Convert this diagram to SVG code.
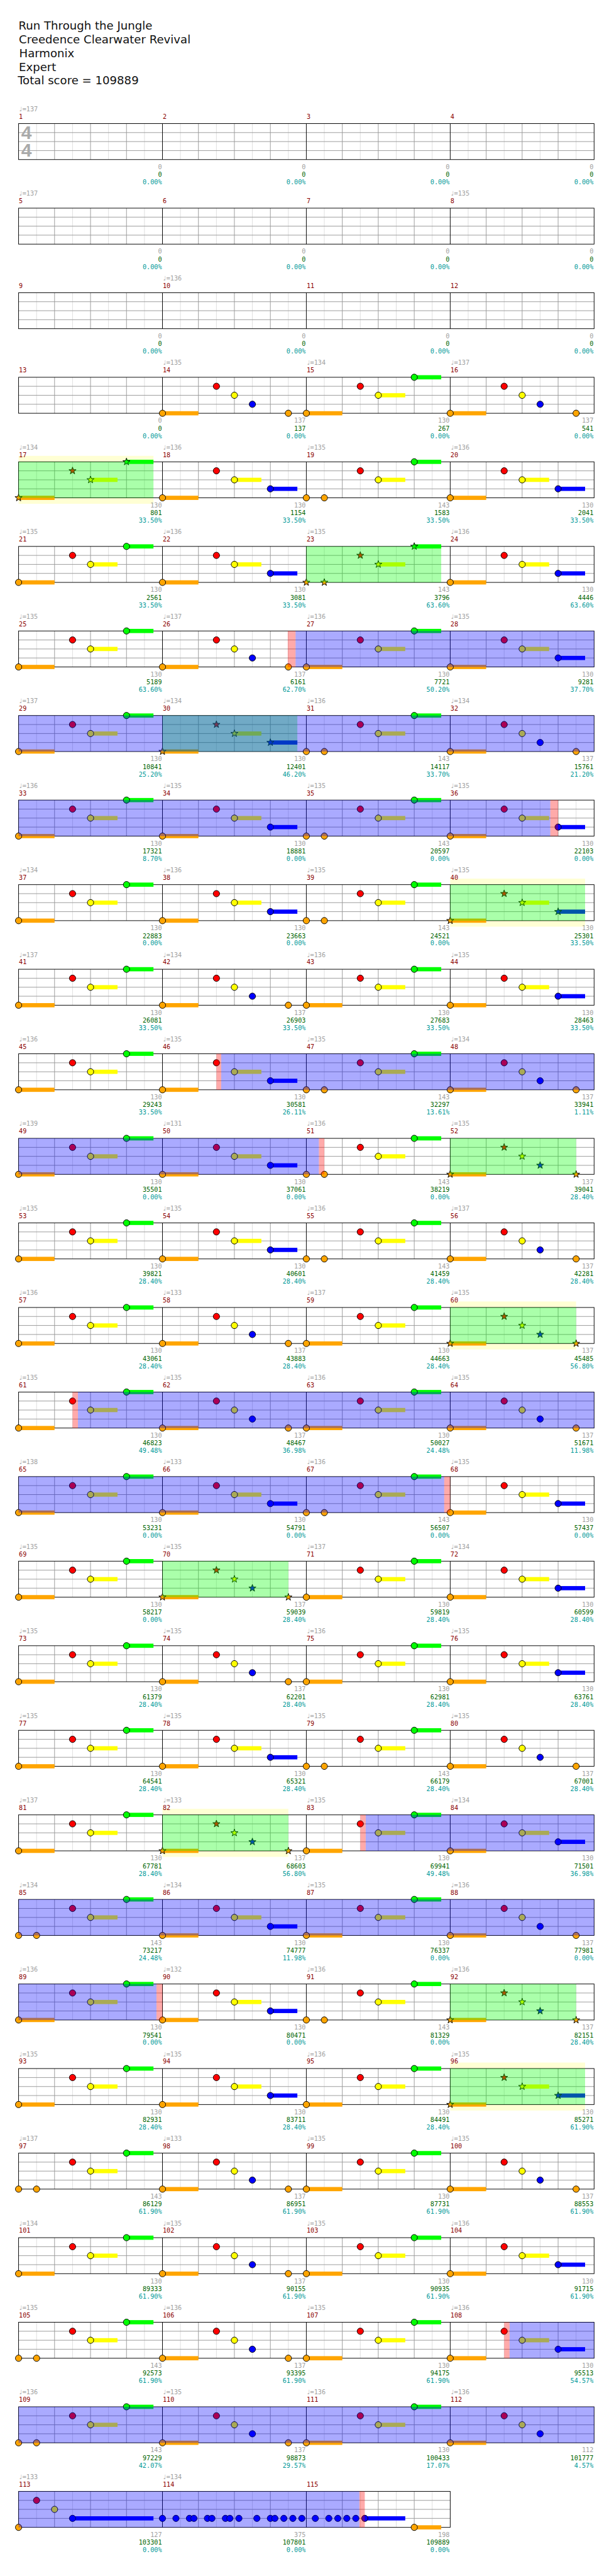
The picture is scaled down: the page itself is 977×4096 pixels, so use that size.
<svg xmlns="http://www.w3.org/2000/svg" width="977" height="4096" viewBox="0 0 977 4096">
<style>
.so{fill:#ffa500}.sy{fill:#ff0}.sg{fill:#0f0}.sb{fill:#00f}
.no,.nr,.ny,.ng,.nb{stroke:#000;stroke-width:1}
.no{fill:#ffa500}.nr{fill:#f00}.ny{fill:#ff0}.ng{fill:#0f0}.nb{fill:#00f}
.og{fill:#0f0;fill-opacity:.333}.ob{fill:#00f;fill-opacity:.333}.or{fill:#f00;fill-opacity:.333}.bd{fill:#ffffd4}
.tx{font-family:"DejaVu Sans Mono",monospace;font-size:10.7px}
.tp{fill:#a0a0a0}.mn{fill:#8b0000}.a{text-anchor:end;fill:#a0a0a0}.b{text-anchor:end;fill:#006400}.c{text-anchor:end;fill:#009999}
</style>
<defs>
<path id="st" d="M0,-6.3L1.47,-2.02L5.99,-1.95L2.38,0.77L3.7,5.1L0,2.5L-3.7,5.1L-2.38,0.77L-5.99,-1.95L-1.47,-2.02Z"/>
<g id="mg"><rect width="240" height="60" fill="#fff"/><path d="M30 0v60M90 0v60M150 0v60M210 0v60" stroke="#ddd"/><path d="M60 0v60M120 0v60M180 0v60M0 15h240M0 30h240M0 45h240" stroke="#999"/></g>
<g id="stf"><use href="#mg" x="31"/><use href="#mg" x="271"/><use href="#mg" x="511"/><use href="#mg" x="751"/><path d="M271 0v60M511 0v60M751 0v60" stroke="#000"/><rect x="31" width="960" height="60" fill="none" stroke="#000"/></g>
<g id="pA"><rect class="so" y="56.5" width="60" height="7"/><rect class="sy" x="120" y="26.5" width="45" height="7"/><rect class="sg" x="180" y="-3.5" width="45" height="7"/><circle class="no" cy="60" r="5.3"/><circle class="nr" cx="90" cy="15" r="5.3"/><circle class="ny" cx="120" cy="30" r="5.3"/><circle class="ng" cx="180" r="5.3"/></g>
<g id="pB"><rect class="so" y="56.5" width="60" height="7"/><circle class="no" cy="60" r="5.3"/><circle class="nr" cx="90" cy="15" r="5.3"/><circle class="ny" cx="120" cy="30" r="5.3"/><circle class="nb" cx="150" cy="45" r="5.3"/><circle class="no" cx="210" cy="60" r="5.3"/></g>
<g id="pB2"><rect class="so" y="56.5" width="60" height="7"/><circle class="no" cy="60" r="5.3"/><circle class="nr" cx="90" cy="15" r="5.3"/><circle class="ny" cx="120" cy="30" r="5.3"/><circle class="nb" cx="150" cy="45" r="5.3"/></g>
<g id="pC"><rect class="so" y="56.5" width="60" height="7"/><rect class="sy" x="120" y="26.5" width="45" height="7"/><rect class="sb" x="180" y="41.5" width="45" height="7"/><circle class="no" cy="60" r="5.3"/><circle class="nr" cx="90" cy="15" r="5.3"/><circle class="ny" cx="120" cy="30" r="5.3"/><circle class="nb" cx="180" cy="45" r="5.3"/></g>
<g id="pE"><rect class="sy" x="120" y="26.5" width="45" height="7"/><rect class="sg" x="180" y="-3.5" width="45" height="7"/><circle class="no" cy="60" r="5.3"/><circle class="no" cx="30" cy="60" r="5.3"/><circle class="nr" cx="90" cy="15" r="5.3"/><circle class="ny" cx="120" cy="30" r="5.3"/><circle class="ng" cx="180" r="5.3"/></g>
<g id="sA"><rect class="so" y="56.5" width="60" height="7"/><rect class="sy" x="120" y="26.5" width="45" height="7"/><rect class="sg" x="180" y="-3.5" width="45" height="7"/><use href="#st" class="no" y="60"/><use href="#st" class="nr" x="90" y="15"/><use href="#st" class="ny" x="120" y="30"/><use href="#st" class="ng" x="180"/></g>
<g id="sE"><rect class="sy" x="120" y="26.5" width="45" height="7"/><rect class="sg" x="180" y="-3.5" width="45" height="7"/><use href="#st" class="no" y="60"/><use href="#st" class="no" x="30" y="60"/><use href="#st" class="nr" x="90" y="15"/><use href="#st" class="ny" x="120" y="30"/><use href="#st" class="ng" x="180"/></g>
<g id="sB"><rect class="so" y="56.5" width="60" height="7"/><use href="#st" class="no" y="60"/><use href="#st" class="nr" x="90" y="15"/><use href="#st" class="ny" x="120" y="30"/><use href="#st" class="nb" x="150" y="45"/><use href="#st" class="no" x="210" y="60"/></g>
<g id="sC"><rect class="so" y="56.5" width="60" height="7"/><rect class="sy" x="120" y="26.5" width="45" height="7"/><rect class="sb" x="180" y="41.5" width="45" height="7"/><use href="#st" class="no" y="60"/><use href="#st" class="nr" x="90" y="15"/><use href="#st" class="ny" x="120" y="30"/><use href="#st" class="nb" x="180" y="45"/></g>
</defs>
<g transform="scale(0.9539)">
<rect width="1024" height="4294" fill="#fff"/>
<g id="title" font-family="'DejaVu Sans',sans-serif" font-size="19" fill="#111">
<text x="31" y="49">Run Through the Jungle</text>
<text x="31.5" y="72">Creedence Clearwater Revival</text>
<text x="32" y="95">Harmonix</text>
<text x="31.5" y="118">Expert</text>
<text x="29.5" y="141">Total score = 109889</text>
</g>

<g id="r1" transform="translate(0,206)"><use href="#stf"/>
<g font-family="'Liberation Sans',sans-serif" font-weight="bold" font-size="31.5" fill="#aaa"><text x="35.5" y="26">4</text><text x="35.5" y="55.5">4</text></g>
<g class="tx"><text class="tp" x="31" y="-20.5">♩=137</text>
<text class="mn" x="31.5" y="-8">1</text><text class="mn" x="271.5" y="-8">2</text><text class="mn" x="511.5" y="-8">3</text><text class="mn" x="751.5" y="-8">4</text>
<text class="a" x="270" y="76">0</text><text class="b" x="270" y="89">0</text><text class="c" x="270" y="101.5">0.00%</text>
<text class="a" x="510" y="76">0</text><text class="b" x="510" y="89">0</text><text class="c" x="510" y="101.5">0.00%</text>
<text class="a" x="750" y="76">0</text><text class="b" x="750" y="89">0</text><text class="c" x="750" y="101.5">0.00%</text>
<text class="a" x="990" y="76">0</text><text class="b" x="990" y="89">0</text><text class="c" x="990" y="101.5">0.00%</text></g></g>

<g id="r2" transform="translate(0,346.96)"><use href="#stf"/>
<g class="tx"><text class="tp" x="31" y="-20.5">♩=137</text><text class="tp" x="751" y="-20.5">♩=135</text>
<text class="mn" x="31.5" y="-8">5</text><text class="mn" x="271.5" y="-8">6</text><text class="mn" x="511.5" y="-8">7</text><text class="mn" x="751.5" y="-8">8</text>
<text class="a" x="270" y="76">0</text><text class="b" x="270" y="89">0</text><text class="c" x="270" y="101.5">0.00%</text>
<text class="a" x="510" y="76">0</text><text class="b" x="510" y="89">0</text><text class="c" x="510" y="101.5">0.00%</text>
<text class="a" x="750" y="76">0</text><text class="b" x="750" y="89">0</text><text class="c" x="750" y="101.5">0.00%</text>
<text class="a" x="990" y="76">0</text><text class="b" x="990" y="89">0</text><text class="c" x="990" y="101.5">0.00%</text></g></g>

<g id="r3" transform="translate(0,487.92)"><use href="#stf"/>
<g class="tx"><text class="tp" x="271" y="-20.5">♩=136</text>
<text class="mn" x="31.5" y="-8">9</text><text class="mn" x="271.5" y="-8">10</text><text class="mn" x="511.5" y="-8">11</text><text class="mn" x="751.5" y="-8">12</text>
<text class="a" x="270" y="76">0</text><text class="b" x="270" y="89">0</text><text class="c" x="270" y="101.5">0.00%</text>
<text class="a" x="510" y="76">0</text><text class="b" x="510" y="89">0</text><text class="c" x="510" y="101.5">0.00%</text>
<text class="a" x="750" y="76">0</text><text class="b" x="750" y="89">0</text><text class="c" x="750" y="101.5">0.00%</text>
<text class="a" x="990" y="76">0</text><text class="b" x="990" y="89">0</text><text class="c" x="990" y="101.5">0.00%</text></g></g>

<g id="r4" transform="translate(0,628.88)"><use href="#stf"/><use href="#pB" x="271"/><use href="#pA" x="511"/><use href="#pB" x="751"/>
<g class="tx"><text class="tp" x="271" y="-20.5">♩=135</text><text class="tp" x="511" y="-20.5">♩=134</text><text class="tp" x="751" y="-20.5">♩=137</text>
<text class="mn" x="31.5" y="-8">13</text><text class="mn" x="271.5" y="-8">14</text><text class="mn" x="511.5" y="-8">15</text><text class="mn" x="751.5" y="-8">16</text>
<text class="a" x="270" y="76">0</text><text class="b" x="270" y="89">0</text><text class="c" x="270" y="101.5">0.00%</text>
<text class="a" x="510" y="76">137</text><text class="b" x="510" y="89">137</text><text class="c" x="510" y="101.5">0.00%</text>
<text class="a" x="750" y="76">130</text><text class="b" x="750" y="89">267</text><text class="c" x="750" y="101.5">0.00%</text>
<text class="a" x="990" y="76">137</text><text class="b" x="990" y="89">541</text><text class="c" x="990" y="101.5">0.00%</text></g></g>

<g id="r5" transform="translate(0,769.84)"><rect class="bd" x="31" y="-10" width="225" height="80"/><use href="#stf"/><use href="#sA" x="31"/><use href="#pC" x="271"/><use href="#pE" x="511"/><use href="#pC" x="751"/><rect class="og" x="31" width="225" height="60"/>
<g class="tx"><text class="tp" x="31" y="-20.5">♩=134</text><text class="tp" x="271" y="-20.5">♩=136</text><text class="tp" x="511" y="-20.5">♩=135</text><text class="tp" x="751" y="-20.5">♩=136</text>
<text class="mn" x="31.5" y="-8">17</text><text class="mn" x="271.5" y="-8">18</text><text class="mn" x="511.5" y="-8">19</text><text class="mn" x="751.5" y="-8">20</text>
<text class="a" x="270" y="76">130</text><text class="b" x="270" y="89">801</text><text class="c" x="270" y="101.5">33.50%</text>
<text class="a" x="510" y="76">130</text><text class="b" x="510" y="89">1154</text><text class="c" x="510" y="101.5">33.50%</text>
<text class="a" x="750" y="76">143</text><text class="b" x="750" y="89">1583</text><text class="c" x="750" y="101.5">33.50%</text>
<text class="a" x="990" y="76">130</text><text class="b" x="990" y="89">2041</text><text class="c" x="990" y="101.5">33.50%</text></g></g>

<g id="r6" transform="translate(0,910.8)"><use href="#stf"/><use href="#pA" x="31"/><use href="#pC" x="271"/><use href="#sE" x="511"/><use href="#pC" x="751"/><rect class="og" x="511" width="225" height="60"/>
<g class="tx"><text class="tp" x="31" y="-20.5">♩=135</text><text class="tp" x="271" y="-20.5">♩=136</text><text class="tp" x="511" y="-20.5">♩=135</text><text class="tp" x="751" y="-20.5">♩=136</text>
<text class="mn" x="31.5" y="-8">21</text><text class="mn" x="271.5" y="-8">22</text><text class="mn" x="511.5" y="-8">23</text><text class="mn" x="751.5" y="-8">24</text>
<text class="a" x="270" y="76">130</text><text class="b" x="270" y="89">2561</text><text class="c" x="270" y="101.5">33.50%</text>
<text class="a" x="510" y="76">130</text><text class="b" x="510" y="89">3081</text><text class="c" x="510" y="101.5">33.50%</text>
<text class="a" x="750" y="76">143</text><text class="b" x="750" y="89">3796</text><text class="c" x="750" y="101.5">63.60%</text>
<text class="a" x="990" y="76">130</text><text class="b" x="990" y="89">4446</text><text class="c" x="990" y="101.5">63.60%</text></g></g>

<g id="r7" transform="translate(0,1051.76)"><use href="#stf"/><use href="#pA" x="31"/><use href="#pB" x="271"/><use href="#pA" x="511"/><use href="#pC" x="751"/><rect class="ob" x="493" width="498" height="60"/><rect class="or" x="480" width="13" height="60"/>
<g class="tx"><text class="tp" x="31" y="-20.5">♩=135</text><text class="tp" x="271" y="-20.5">♩=137</text><text class="tp" x="511" y="-20.5">♩=136</text><text class="tp" x="751" y="-20.5">♩=135</text>
<text class="mn" x="31.5" y="-8">25</text><text class="mn" x="271.5" y="-8">26</text><text class="mn" x="511.5" y="-8">27</text><text class="mn" x="751.5" y="-8">28</text>
<text class="a" x="270" y="76">130</text><text class="b" x="270" y="89">5189</text><text class="c" x="270" y="101.5">63.60%</text>
<text class="a" x="510" y="76">137</text><text class="b" x="510" y="89">6161</text><text class="c" x="510" y="101.5">62.70%</text>
<text class="a" x="750" y="76">130</text><text class="b" x="750" y="89">7721</text><text class="c" x="750" y="101.5">50.20%</text>
<text class="a" x="990" y="76">130</text><text class="b" x="990" y="89">9281</text><text class="c" x="990" y="101.5">37.70%</text></g></g>

<g id="r8" transform="translate(0,1192.72)"><use href="#stf"/><use href="#pA" x="31"/><use href="#sC" x="271"/><use href="#pE" x="511"/><use href="#pB" x="751"/><rect class="og" x="271" width="225" height="60"/><rect class="ob" x="31" width="960" height="60"/>
<g class="tx"><text class="tp" x="31" y="-20.5">♩=137</text><text class="tp" x="271" y="-20.5">♩=134</text><text class="tp" x="511" y="-20.5">♩=136</text><text class="tp" x="751" y="-20.5">♩=134</text>
<text class="mn" x="31.5" y="-8">29</text><text class="mn" x="271.5" y="-8">30</text><text class="mn" x="511.5" y="-8">31</text><text class="mn" x="751.5" y="-8">32</text>
<text class="a" x="270" y="76">130</text><text class="b" x="270" y="89">10841</text><text class="c" x="270" y="101.5">25.20%</text>
<text class="a" x="510" y="76">130</text><text class="b" x="510" y="89">12401</text><text class="c" x="510" y="101.5">46.20%</text>
<text class="a" x="750" y="76">143</text><text class="b" x="750" y="89">14117</text><text class="c" x="750" y="101.5">33.70%</text>
<text class="a" x="990" y="76">137</text><text class="b" x="990" y="89">15761</text><text class="c" x="990" y="101.5">21.20%</text></g></g>

<g id="r9" transform="translate(0,1333.68)"><use href="#stf"/><use href="#pA" x="31"/><use href="#pC" x="271"/><use href="#pE" x="511"/><use href="#pC" x="751"/><rect class="ob" x="31" width="887" height="60"/><rect class="or" x="918" width="13" height="60"/>
<g class="tx"><text class="tp" x="31" y="-20.5">♩=136</text><text class="tp" x="271" y="-20.5">♩=135</text><text class="tp" x="511" y="-20.5">♩=135</text><text class="tp" x="751" y="-20.5">♩=135</text>
<text class="mn" x="31.5" y="-8">33</text><text class="mn" x="271.5" y="-8">34</text><text class="mn" x="511.5" y="-8">35</text><text class="mn" x="751.5" y="-8">36</text>
<text class="a" x="270" y="76">130</text><text class="b" x="270" y="89">17321</text><text class="c" x="270" y="101.5">8.70%</text>
<text class="a" x="510" y="76">130</text><text class="b" x="510" y="89">18881</text><text class="c" x="510" y="101.5">0.00%</text>
<text class="a" x="750" y="76">143</text><text class="b" x="750" y="89">20597</text><text class="c" x="750" y="101.5">0.00%</text>
<text class="a" x="990" y="76">130</text><text class="b" x="990" y="89">22103</text><text class="c" x="990" y="101.5">0.00%</text></g></g>

<g id="r10" transform="translate(0,1474.64)"><rect class="bd" x="751" y="-10" width="225" height="80"/><use href="#stf"/><use href="#pA" x="31"/><use href="#pC" x="271"/><use href="#pE" x="511"/><use href="#sC" x="751"/><rect class="og" x="751" width="225" height="60"/>
<g class="tx"><text class="tp" x="31" y="-20.5">♩=134</text><text class="tp" x="271" y="-20.5">♩=136</text><text class="tp" x="511" y="-20.5">♩=135</text><text class="tp" x="751" y="-20.5">♩=135</text>
<text class="mn" x="31.5" y="-8">37</text><text class="mn" x="271.5" y="-8">38</text><text class="mn" x="511.5" y="-8">39</text><text class="mn" x="751.5" y="-8">40</text>
<text class="a" x="270" y="76">130</text><text class="b" x="270" y="89">22883</text><text class="c" x="270" y="101.5">0.00%</text>
<text class="a" x="510" y="76">130</text><text class="b" x="510" y="89">23663</text><text class="c" x="510" y="101.5">0.00%</text>
<text class="a" x="750" y="76">143</text><text class="b" x="750" y="89">24521</text><text class="c" x="750" y="101.5">0.00%</text>
<text class="a" x="990" y="76">130</text><text class="b" x="990" y="89">25301</text><text class="c" x="990" y="101.5">33.50%</text></g></g>

<g id="r11" transform="translate(0,1615.6)"><use href="#stf"/><use href="#pA" x="31"/><use href="#pB" x="271"/><use href="#pA" x="511"/><use href="#pC" x="751"/>
<g class="tx"><text class="tp" x="31" y="-20.5">♩=137</text><text class="tp" x="271" y="-20.5">♩=134</text><text class="tp" x="511" y="-20.5">♩=136</text><text class="tp" x="751" y="-20.5">♩=135</text>
<text class="mn" x="31.5" y="-8">41</text><text class="mn" x="271.5" y="-8">42</text><text class="mn" x="511.5" y="-8">43</text><text class="mn" x="751.5" y="-8">44</text>
<text class="a" x="270" y="76">130</text><text class="b" x="270" y="89">26081</text><text class="c" x="270" y="101.5">33.50%</text>
<text class="a" x="510" y="76">137</text><text class="b" x="510" y="89">26903</text><text class="c" x="510" y="101.5">33.50%</text>
<text class="a" x="750" y="76">130</text><text class="b" x="750" y="89">27683</text><text class="c" x="750" y="101.5">33.50%</text>
<text class="a" x="990" y="76">130</text><text class="b" x="990" y="89">28463</text><text class="c" x="990" y="101.5">33.50%</text></g></g>

<g id="r12" transform="translate(0,1756.56)"><use href="#stf"/><use href="#pA" x="31"/><use href="#pC" x="271"/><use href="#pE" x="511"/><use href="#pB" x="751"/><rect class="ob" x="369" width="622" height="60"/><rect class="or" x="361" width="8" height="60"/>
<g class="tx"><text class="tp" x="31" y="-20.5">♩=136</text><text class="tp" x="271" y="-20.5">♩=135</text><text class="tp" x="511" y="-20.5">♩=135</text><text class="tp" x="751" y="-20.5">♩=134</text>
<text class="mn" x="31.5" y="-8">45</text><text class="mn" x="271.5" y="-8">46</text><text class="mn" x="511.5" y="-8">47</text><text class="mn" x="751.5" y="-8">48</text>
<text class="a" x="270" y="76">130</text><text class="b" x="270" y="89">29243</text><text class="c" x="270" y="101.5">33.50%</text>
<text class="a" x="510" y="76">130</text><text class="b" x="510" y="89">30581</text><text class="c" x="510" y="101.5">26.11%</text>
<text class="a" x="750" y="76">143</text><text class="b" x="750" y="89">32297</text><text class="c" x="750" y="101.5">13.61%</text>
<text class="a" x="990" y="76">137</text><text class="b" x="990" y="89">33941</text><text class="c" x="990" y="101.5">1.11%</text></g></g>

<g id="r13" transform="translate(0,1897.52)"><use href="#stf"/><use href="#pA" x="31"/><use href="#pC" x="271"/><use href="#pE" x="511"/><use href="#sB" x="751"/><rect class="og" x="751" width="210" height="60"/><rect class="ob" x="31" width="501" height="60"/><rect class="or" x="532" width="9" height="60"/>
<g class="tx"><text class="tp" x="31" y="-20.5">♩=139</text><text class="tp" x="271" y="-20.5">♩=131</text><text class="tp" x="511" y="-20.5">♩=136</text><text class="tp" x="751" y="-20.5">♩=135</text>
<text class="mn" x="31.5" y="-8">49</text><text class="mn" x="271.5" y="-8">50</text><text class="mn" x="511.5" y="-8">51</text><text class="mn" x="751.5" y="-8">52</text>
<text class="a" x="270" y="76">130</text><text class="b" x="270" y="89">35501</text><text class="c" x="270" y="101.5">0.00%</text>
<text class="a" x="510" y="76">130</text><text class="b" x="510" y="89">37061</text><text class="c" x="510" y="101.5">0.00%</text>
<text class="a" x="750" y="76">143</text><text class="b" x="750" y="89">38219</text><text class="c" x="750" y="101.5">0.00%</text>
<text class="a" x="990" y="76">137</text><text class="b" x="990" y="89">39041</text><text class="c" x="990" y="101.5">28.40%</text></g></g>

<g id="r14" transform="translate(0,2038.48)"><use href="#stf"/><use href="#pA" x="31"/><use href="#pC" x="271"/><use href="#pE" x="511"/><use href="#pB" x="751"/>
<g class="tx"><text class="tp" x="31" y="-20.5">♩=135</text><text class="tp" x="271" y="-20.5">♩=135</text><text class="tp" x="511" y="-20.5">♩=136</text><text class="tp" x="751" y="-20.5">♩=137</text>
<text class="mn" x="31.5" y="-8">53</text><text class="mn" x="271.5" y="-8">54</text><text class="mn" x="511.5" y="-8">55</text><text class="mn" x="751.5" y="-8">56</text>
<text class="a" x="270" y="76">130</text><text class="b" x="270" y="89">39821</text><text class="c" x="270" y="101.5">28.40%</text>
<text class="a" x="510" y="76">130</text><text class="b" x="510" y="89">40601</text><text class="c" x="510" y="101.5">28.40%</text>
<text class="a" x="750" y="76">143</text><text class="b" x="750" y="89">41459</text><text class="c" x="750" y="101.5">28.40%</text>
<text class="a" x="990" y="76">137</text><text class="b" x="990" y="89">42281</text><text class="c" x="990" y="101.5">28.40%</text></g></g>

<g id="r15" transform="translate(0,2179.44)"><rect class="bd" x="751" y="-10" width="210" height="80"/><use href="#stf"/><use href="#pA" x="31"/><use href="#pB" x="271"/><use href="#pA" x="511"/><use href="#sB" x="751"/><rect class="og" x="751" width="210" height="60"/>
<g class="tx"><text class="tp" x="31" y="-20.5">♩=136</text><text class="tp" x="271" y="-20.5">♩=133</text><text class="tp" x="511" y="-20.5">♩=137</text><text class="tp" x="751" y="-20.5">♩=135</text>
<text class="mn" x="31.5" y="-8">57</text><text class="mn" x="271.5" y="-8">58</text><text class="mn" x="511.5" y="-8">59</text><text class="mn" x="751.5" y="-8">60</text>
<text class="a" x="270" y="76">130</text><text class="b" x="270" y="89">43061</text><text class="c" x="270" y="101.5">28.40%</text>
<text class="a" x="510" y="76">137</text><text class="b" x="510" y="89">43883</text><text class="c" x="510" y="101.5">28.40%</text>
<text class="a" x="750" y="76">130</text><text class="b" x="750" y="89">44663</text><text class="c" x="750" y="101.5">28.40%</text>
<text class="a" x="990" y="76">137</text><text class="b" x="990" y="89">45485</text><text class="c" x="990" y="101.5">56.80%</text></g></g>

<g id="r16" transform="translate(0,2320.4)"><use href="#stf"/><use href="#pA" x="31"/><use href="#pB" x="271"/><use href="#pA" x="511"/><use href="#pB" x="751"/><rect class="ob" x="130" width="861" height="60"/><rect class="or" x="121" width="9" height="60"/>
<g class="tx"><text class="tp" x="31" y="-20.5">♩=135</text><text class="tp" x="271" y="-20.5">♩=135</text><text class="tp" x="511" y="-20.5">♩=136</text><text class="tp" x="751" y="-20.5">♩=135</text>
<text class="mn" x="31.5" y="-8">61</text><text class="mn" x="271.5" y="-8">62</text><text class="mn" x="511.5" y="-8">63</text><text class="mn" x="751.5" y="-8">64</text>
<text class="a" x="270" y="76">130</text><text class="b" x="270" y="89">46823</text><text class="c" x="270" y="101.5">49.48%</text>
<text class="a" x="510" y="76">137</text><text class="b" x="510" y="89">48467</text><text class="c" x="510" y="101.5">36.98%</text>
<text class="a" x="750" y="76">130</text><text class="b" x="750" y="89">50027</text><text class="c" x="750" y="101.5">24.48%</text>
<text class="a" x="990" y="76">137</text><text class="b" x="990" y="89">51671</text><text class="c" x="990" y="101.5">11.98%</text></g></g>

<g id="r17" transform="translate(0,2461.36)"><use href="#stf"/><use href="#pA" x="31"/><use href="#pC" x="271"/><use href="#pE" x="511"/><use href="#pC" x="751"/><rect class="ob" x="31" width="710" height="60"/><rect class="or" x="741" width="10" height="60"/>
<g class="tx"><text class="tp" x="31" y="-20.5">♩=138</text><text class="tp" x="271" y="-20.5">♩=133</text><text class="tp" x="511" y="-20.5">♩=136</text><text class="tp" x="751" y="-20.5">♩=135</text>
<text class="mn" x="31.5" y="-8">65</text><text class="mn" x="271.5" y="-8">66</text><text class="mn" x="511.5" y="-8">67</text><text class="mn" x="751.5" y="-8">68</text>
<text class="a" x="270" y="76">130</text><text class="b" x="270" y="89">53231</text><text class="c" x="270" y="101.5">0.00%</text>
<text class="a" x="510" y="76">130</text><text class="b" x="510" y="89">54791</text><text class="c" x="510" y="101.5">0.00%</text>
<text class="a" x="750" y="76">143</text><text class="b" x="750" y="89">56507</text><text class="c" x="750" y="101.5">0.00%</text>
<text class="a" x="990" y="76">130</text><text class="b" x="990" y="89">57437</text><text class="c" x="990" y="101.5">0.00%</text></g></g>

<g id="r18" transform="translate(0,2602.32)"><use href="#stf"/><use href="#pA" x="31"/><use href="#sB" x="271"/><use href="#pA" x="511"/><use href="#pC" x="751"/><rect class="og" x="271" width="210" height="60"/>
<g class="tx"><text class="tp" x="31" y="-20.5">♩=135</text><text class="tp" x="271" y="-20.5">♩=135</text><text class="tp" x="511" y="-20.5">♩=137</text><text class="tp" x="751" y="-20.5">♩=134</text>
<text class="mn" x="31.5" y="-8">69</text><text class="mn" x="271.5" y="-8">70</text><text class="mn" x="511.5" y="-8">71</text><text class="mn" x="751.5" y="-8">72</text>
<text class="a" x="270" y="76">130</text><text class="b" x="270" y="89">58217</text><text class="c" x="270" y="101.5">0.00%</text>
<text class="a" x="510" y="76">137</text><text class="b" x="510" y="89">59039</text><text class="c" x="510" y="101.5">28.40%</text>
<text class="a" x="750" y="76">130</text><text class="b" x="750" y="89">59819</text><text class="c" x="750" y="101.5">28.40%</text>
<text class="a" x="990" y="76">130</text><text class="b" x="990" y="89">60599</text><text class="c" x="990" y="101.5">28.40%</text></g></g>

<g id="r19" transform="translate(0,2743.28)"><use href="#stf"/><use href="#pA" x="31"/><use href="#pB" x="271"/><use href="#pA" x="511"/><use href="#pC" x="751"/>
<g class="tx"><text class="tp" x="31" y="-20.5">♩=135</text><text class="tp" x="271" y="-20.5">♩=135</text><text class="tp" x="511" y="-20.5">♩=136</text><text class="tp" x="751" y="-20.5">♩=135</text>
<text class="mn" x="31.5" y="-8">73</text><text class="mn" x="271.5" y="-8">74</text><text class="mn" x="511.5" y="-8">75</text><text class="mn" x="751.5" y="-8">76</text>
<text class="a" x="270" y="76">130</text><text class="b" x="270" y="89">61379</text><text class="c" x="270" y="101.5">28.40%</text>
<text class="a" x="510" y="76">137</text><text class="b" x="510" y="89">62201</text><text class="c" x="510" y="101.5">28.40%</text>
<text class="a" x="750" y="76">130</text><text class="b" x="750" y="89">62981</text><text class="c" x="750" y="101.5">28.40%</text>
<text class="a" x="990" y="76">130</text><text class="b" x="990" y="89">63761</text><text class="c" x="990" y="101.5">28.40%</text></g></g>

<g id="r20" transform="translate(0,2884.24)"><use href="#stf"/><use href="#pA" x="31"/><use href="#pC" x="271"/><use href="#pE" x="511"/><use href="#pB" x="751"/>
<g class="tx"><text class="tp" x="31" y="-20.5">♩=135</text><text class="tp" x="271" y="-20.5">♩=135</text><text class="tp" x="511" y="-20.5">♩=135</text><text class="tp" x="751" y="-20.5">♩=135</text>
<text class="mn" x="31.5" y="-8">77</text><text class="mn" x="271.5" y="-8">78</text><text class="mn" x="511.5" y="-8">79</text><text class="mn" x="751.5" y="-8">80</text>
<text class="a" x="270" y="76">130</text><text class="b" x="270" y="89">64541</text><text class="c" x="270" y="101.5">28.40%</text>
<text class="a" x="510" y="76">130</text><text class="b" x="510" y="89">65321</text><text class="c" x="510" y="101.5">28.40%</text>
<text class="a" x="750" y="76">143</text><text class="b" x="750" y="89">66179</text><text class="c" x="750" y="101.5">28.40%</text>
<text class="a" x="990" y="76">137</text><text class="b" x="990" y="89">67001</text><text class="c" x="990" y="101.5">28.40%</text></g></g>

<g id="r21" transform="translate(0,3025.2)"><rect class="bd" x="271" y="-10" width="210" height="80"/><use href="#stf"/><use href="#pA" x="31"/><use href="#sB" x="271"/><use href="#pA" x="511"/><use href="#pC" x="751"/><rect class="og" x="271" width="210" height="60"/><rect class="ob" x="610" width="381" height="60"/><rect class="or" x="601" width="9" height="60"/>
<g class="tx"><text class="tp" x="31" y="-20.5">♩=137</text><text class="tp" x="271" y="-20.5">♩=133</text><text class="tp" x="511" y="-20.5">♩=135</text><text class="tp" x="751" y="-20.5">♩=134</text>
<text class="mn" x="31.5" y="-8">81</text><text class="mn" x="271.5" y="-8">82</text><text class="mn" x="511.5" y="-8">83</text><text class="mn" x="751.5" y="-8">84</text>
<text class="a" x="270" y="76">130</text><text class="b" x="270" y="89">67781</text><text class="c" x="270" y="101.5">28.40%</text>
<text class="a" x="510" y="76">137</text><text class="b" x="510" y="89">68603</text><text class="c" x="510" y="101.5">56.80%</text>
<text class="a" x="750" y="76">130</text><text class="b" x="750" y="89">69941</text><text class="c" x="750" y="101.5">49.48%</text>
<text class="a" x="990" y="76">130</text><text class="b" x="990" y="89">71501</text><text class="c" x="990" y="101.5">36.98%</text></g></g>

<g id="r22" transform="translate(0,3166.16)"><use href="#stf"/><use href="#pE" x="31"/><use href="#pC" x="271"/><use href="#pA" x="511"/><use href="#pB" x="751"/><rect class="ob" x="31" width="960" height="60"/>
<g class="tx"><text class="tp" x="31" y="-20.5">♩=134</text><text class="tp" x="271" y="-20.5">♩=134</text><text class="tp" x="511" y="-20.5">♩=135</text><text class="tp" x="751" y="-20.5">♩=136</text>
<text class="mn" x="31.5" y="-8">85</text><text class="mn" x="271.5" y="-8">86</text><text class="mn" x="511.5" y="-8">87</text><text class="mn" x="751.5" y="-8">88</text>
<text class="a" x="270" y="76">143</text><text class="b" x="270" y="89">73217</text><text class="c" x="270" y="101.5">24.48%</text>
<text class="a" x="510" y="76">130</text><text class="b" x="510" y="89">74777</text><text class="c" x="510" y="101.5">11.98%</text>
<text class="a" x="750" y="76">130</text><text class="b" x="750" y="89">76337</text><text class="c" x="750" y="101.5">0.00%</text>
<text class="a" x="990" y="76">137</text><text class="b" x="990" y="89">77981</text><text class="c" x="990" y="101.5">0.00%</text></g></g>

<g id="r23" transform="translate(0,3307.12)"><use href="#stf"/><use href="#pA" x="31"/><use href="#pC" x="271"/><use href="#pE" x="511"/><use href="#sB" x="751"/><rect class="og" x="751" width="210" height="60"/><rect class="ob" x="31" width="230" height="60"/><rect class="or" x="261" width="10" height="60"/>
<g class="tx"><text class="tp" x="31" y="-20.5">♩=136</text><text class="tp" x="271" y="-20.5">♩=132</text><text class="tp" x="511" y="-20.5">♩=136</text><text class="tp" x="751" y="-20.5">♩=136</text>
<text class="mn" x="31.5" y="-8">89</text><text class="mn" x="271.5" y="-8">90</text><text class="mn" x="511.5" y="-8">91</text><text class="mn" x="751.5" y="-8">92</text>
<text class="a" x="270" y="76">130</text><text class="b" x="270" y="89">79541</text><text class="c" x="270" y="101.5">0.00%</text>
<text class="a" x="510" y="76">130</text><text class="b" x="510" y="89">80471</text><text class="c" x="510" y="101.5">0.00%</text>
<text class="a" x="750" y="76">143</text><text class="b" x="750" y="89">81329</text><text class="c" x="750" y="101.5">0.00%</text>
<text class="a" x="990" y="76">137</text><text class="b" x="990" y="89">82151</text><text class="c" x="990" y="101.5">28.40%</text></g></g>

<g id="r24" transform="translate(0,3448.08)"><rect class="bd" x="751" y="-10" width="225" height="80"/><use href="#stf"/><use href="#pA" x="31"/><use href="#pC" x="271"/><use href="#pA" x="511"/><use href="#sC" x="751"/><rect class="og" x="751" width="225" height="60"/>
<g class="tx"><text class="tp" x="31" y="-20.5">♩=135</text><text class="tp" x="271" y="-20.5">♩=135</text><text class="tp" x="511" y="-20.5">♩=136</text><text class="tp" x="751" y="-20.5">♩=135</text>
<text class="mn" x="31.5" y="-8">93</text><text class="mn" x="271.5" y="-8">94</text><text class="mn" x="511.5" y="-8">95</text><text class="mn" x="751.5" y="-8">96</text>
<text class="a" x="270" y="76">130</text><text class="b" x="270" y="89">82931</text><text class="c" x="270" y="101.5">28.40%</text>
<text class="a" x="510" y="76">130</text><text class="b" x="510" y="89">83711</text><text class="c" x="510" y="101.5">28.40%</text>
<text class="a" x="750" y="76">130</text><text class="b" x="750" y="89">84491</text><text class="c" x="750" y="101.5">28.40%</text>
<text class="a" x="990" y="76">130</text><text class="b" x="990" y="89">85271</text><text class="c" x="990" y="101.5">61.90%</text></g></g>

<g id="r25" transform="translate(0,3589.04)"><use href="#stf"/><use href="#pE" x="31"/><use href="#pB" x="271"/><use href="#pA" x="511"/><use href="#pB" x="751"/>
<g class="tx"><text class="tp" x="31" y="-20.5">♩=137</text><text class="tp" x="271" y="-20.5">♩=133</text><text class="tp" x="511" y="-20.5">♩=135</text><text class="tp" x="751" y="-20.5">♩=135</text>
<text class="mn" x="31.5" y="-8">97</text><text class="mn" x="271.5" y="-8">98</text><text class="mn" x="511.5" y="-8">99</text><text class="mn" x="751.5" y="-8">100</text>
<text class="a" x="270" y="76">143</text><text class="b" x="270" y="89">86129</text><text class="c" x="270" y="101.5">61.90%</text>
<text class="a" x="510" y="76">137</text><text class="b" x="510" y="89">86951</text><text class="c" x="510" y="101.5">61.90%</text>
<text class="a" x="750" y="76">130</text><text class="b" x="750" y="89">87731</text><text class="c" x="750" y="101.5">61.90%</text>
<text class="a" x="990" y="76">137</text><text class="b" x="990" y="89">88553</text><text class="c" x="990" y="101.5">61.90%</text></g></g>

<g id="r26" transform="translate(0,3730)"><use href="#stf"/><use href="#pA" x="31"/><use href="#pB" x="271"/><use href="#pA" x="511"/><use href="#pC" x="751"/>
<g class="tx"><text class="tp" x="31" y="-20.5">♩=134</text><text class="tp" x="271" y="-20.5">♩=135</text><text class="tp" x="511" y="-20.5">♩=135</text><text class="tp" x="751" y="-20.5">♩=136</text>
<text class="mn" x="31.5" y="-8">101</text><text class="mn" x="271.5" y="-8">102</text><text class="mn" x="511.5" y="-8">103</text><text class="mn" x="751.5" y="-8">104</text>
<text class="a" x="270" y="76">130</text><text class="b" x="270" y="89">89333</text><text class="c" x="270" y="101.5">61.90%</text>
<text class="a" x="510" y="76">137</text><text class="b" x="510" y="89">90155</text><text class="c" x="510" y="101.5">61.90%</text>
<text class="a" x="750" y="76">130</text><text class="b" x="750" y="89">90935</text><text class="c" x="750" y="101.5">61.90%</text>
<text class="a" x="990" y="76">130</text><text class="b" x="990" y="89">91715</text><text class="c" x="990" y="101.5">61.90%</text></g></g>

<g id="r27" transform="translate(0,3870.96)"><use href="#stf"/><use href="#pE" x="31"/><use href="#pB" x="271"/><use href="#pA" x="511"/><use href="#pC" x="751"/><rect class="ob" x="850" width="141" height="60"/><rect class="or" x="841" width="9" height="60"/>
<g class="tx"><text class="tp" x="31" y="-20.5">♩=135</text><text class="tp" x="271" y="-20.5">♩=136</text><text class="tp" x="511" y="-20.5">♩=135</text><text class="tp" x="751" y="-20.5">♩=136</text>
<text class="mn" x="31.5" y="-8">105</text><text class="mn" x="271.5" y="-8">106</text><text class="mn" x="511.5" y="-8">107</text><text class="mn" x="751.5" y="-8">108</text>
<text class="a" x="270" y="76">143</text><text class="b" x="270" y="89">92573</text><text class="c" x="270" y="101.5">61.90%</text>
<text class="a" x="510" y="76">137</text><text class="b" x="510" y="89">93395</text><text class="c" x="510" y="101.5">61.90%</text>
<text class="a" x="750" y="76">130</text><text class="b" x="750" y="89">94175</text><text class="c" x="750" y="101.5">61.90%</text>
<text class="a" x="990" y="76">130</text><text class="b" x="990" y="89">95513</text><text class="c" x="990" y="101.5">54.57%</text></g></g>

<g id="r28" transform="translate(0,4011.92)"><use href="#stf"/><use href="#pE" x="31"/><use href="#pB" x="271"/><use href="#pA" x="511"/><use href="#pB2" x="751"/><rect class="ob" x="31" width="960" height="60"/>
<g class="tx"><text class="tp" x="31" y="-20.5">♩=136</text><text class="tp" x="271" y="-20.5">♩=135</text><text class="tp" x="511" y="-20.5">♩=136</text><text class="tp" x="751" y="-20.5">♩=136</text>
<text class="mn" x="31.5" y="-8">109</text><text class="mn" x="271.5" y="-8">110</text><text class="mn" x="511.5" y="-8">111</text><text class="mn" x="751.5" y="-8">112</text>
<text class="a" x="270" y="76">143</text><text class="b" x="270" y="89">97229</text><text class="c" x="270" y="101.5">42.07%</text>
<text class="a" x="510" y="76">137</text><text class="b" x="510" y="89">98873</text><text class="c" x="510" y="101.5">29.57%</text>
<text class="a" x="750" y="76">130</text><text class="b" x="750" y="89">100433</text><text class="c" x="750" y="101.5">17.07%</text>
<text class="a" x="990" y="76">112</text><text class="b" x="990" y="89">101777</text><text class="c" x="990" y="101.5">4.57%</text></g></g>

<g id="r29" transform="translate(0,4152.88)"><use href="#mg" x="31"/><use href="#mg" x="271"/><use href="#mg" x="511"/><path d="M271 0v60M511 0v60" stroke="#000"/><rect x="31" width="720" height="60" fill="none" stroke="#000"/>
<rect class="sb" x="121" y="41.5" width="135" height="7"/><rect class="sb" x="608.5" y="41.5" width="67.5" height="7"/><rect class="so" x="691" y="56.5" width="45" height="7"/>
<circle class="no" cx="31" cy="60" r="5.3"/><circle class="nr" cx="61" cy="15" r="5.3"/><circle class="ny" cx="91" cy="30" r="5.3"/><circle class="nb" cx="121" cy="45" r="5.3"/>
<g class="nb"><circle cx="271" cy="45" r="5.3"/><circle cx="293.5" cy="45" r="5.3"/><circle cx="316" cy="45" r="5.3"/><circle cx="323.5" cy="45" r="5.3"/><circle cx="346" cy="45" r="5.3"/><circle cx="353.5" cy="45" r="5.3"/><circle cx="376" cy="45" r="5.3"/><circle cx="383.5" cy="45" r="5.3"/><circle cx="398.5" cy="45" r="5.3"/><circle cx="428.5" cy="45" r="5.3"/><circle cx="451" cy="45" r="5.3"/><circle cx="458.5" cy="45" r="5.3"/><circle cx="473.5" cy="45" r="5.3"/><circle cx="488.5" cy="45" r="5.3"/><circle cx="503.5" cy="45" r="5.3"/><circle cx="526" cy="45" r="5.3"/><circle cx="548.5" cy="45" r="5.3"/><circle cx="563.5" cy="45" r="5.3"/><circle cx="578.5" cy="45" r="5.3"/><circle cx="593.5" cy="45" r="5.3"/><circle cx="608.5" cy="45" r="5.3"/></g>
<circle class="no" cx="691" cy="60" r="5.3"/>
<rect class="ob" x="31" width="568.5" height="60"/><rect class="or" x="599.5" width="9" height="60"/>
<g class="tx"><text class="tp" x="31" y="-20.5">♩=133</text><text class="tp" x="271" y="-20.5">♩=134</text>
<text class="mn" x="31.5" y="-8">113</text><text class="mn" x="271.5" y="-8">114</text><text class="mn" x="511.5" y="-8">115</text>
<text class="a" x="270" y="76">127</text><text class="b" x="270" y="89">103301</text><text class="c" x="270" y="101.5">0.00%</text>
<text class="a" x="510" y="76">375</text><text class="b" x="510" y="89">107801</text><text class="c" x="510" y="101.5">0.00%</text>
<text class="a" x="750" y="76">198</text><text class="b" x="750" y="89">109889</text><text class="c" x="750" y="101.5">0.00%</text></g></g>
</g>
</svg>
